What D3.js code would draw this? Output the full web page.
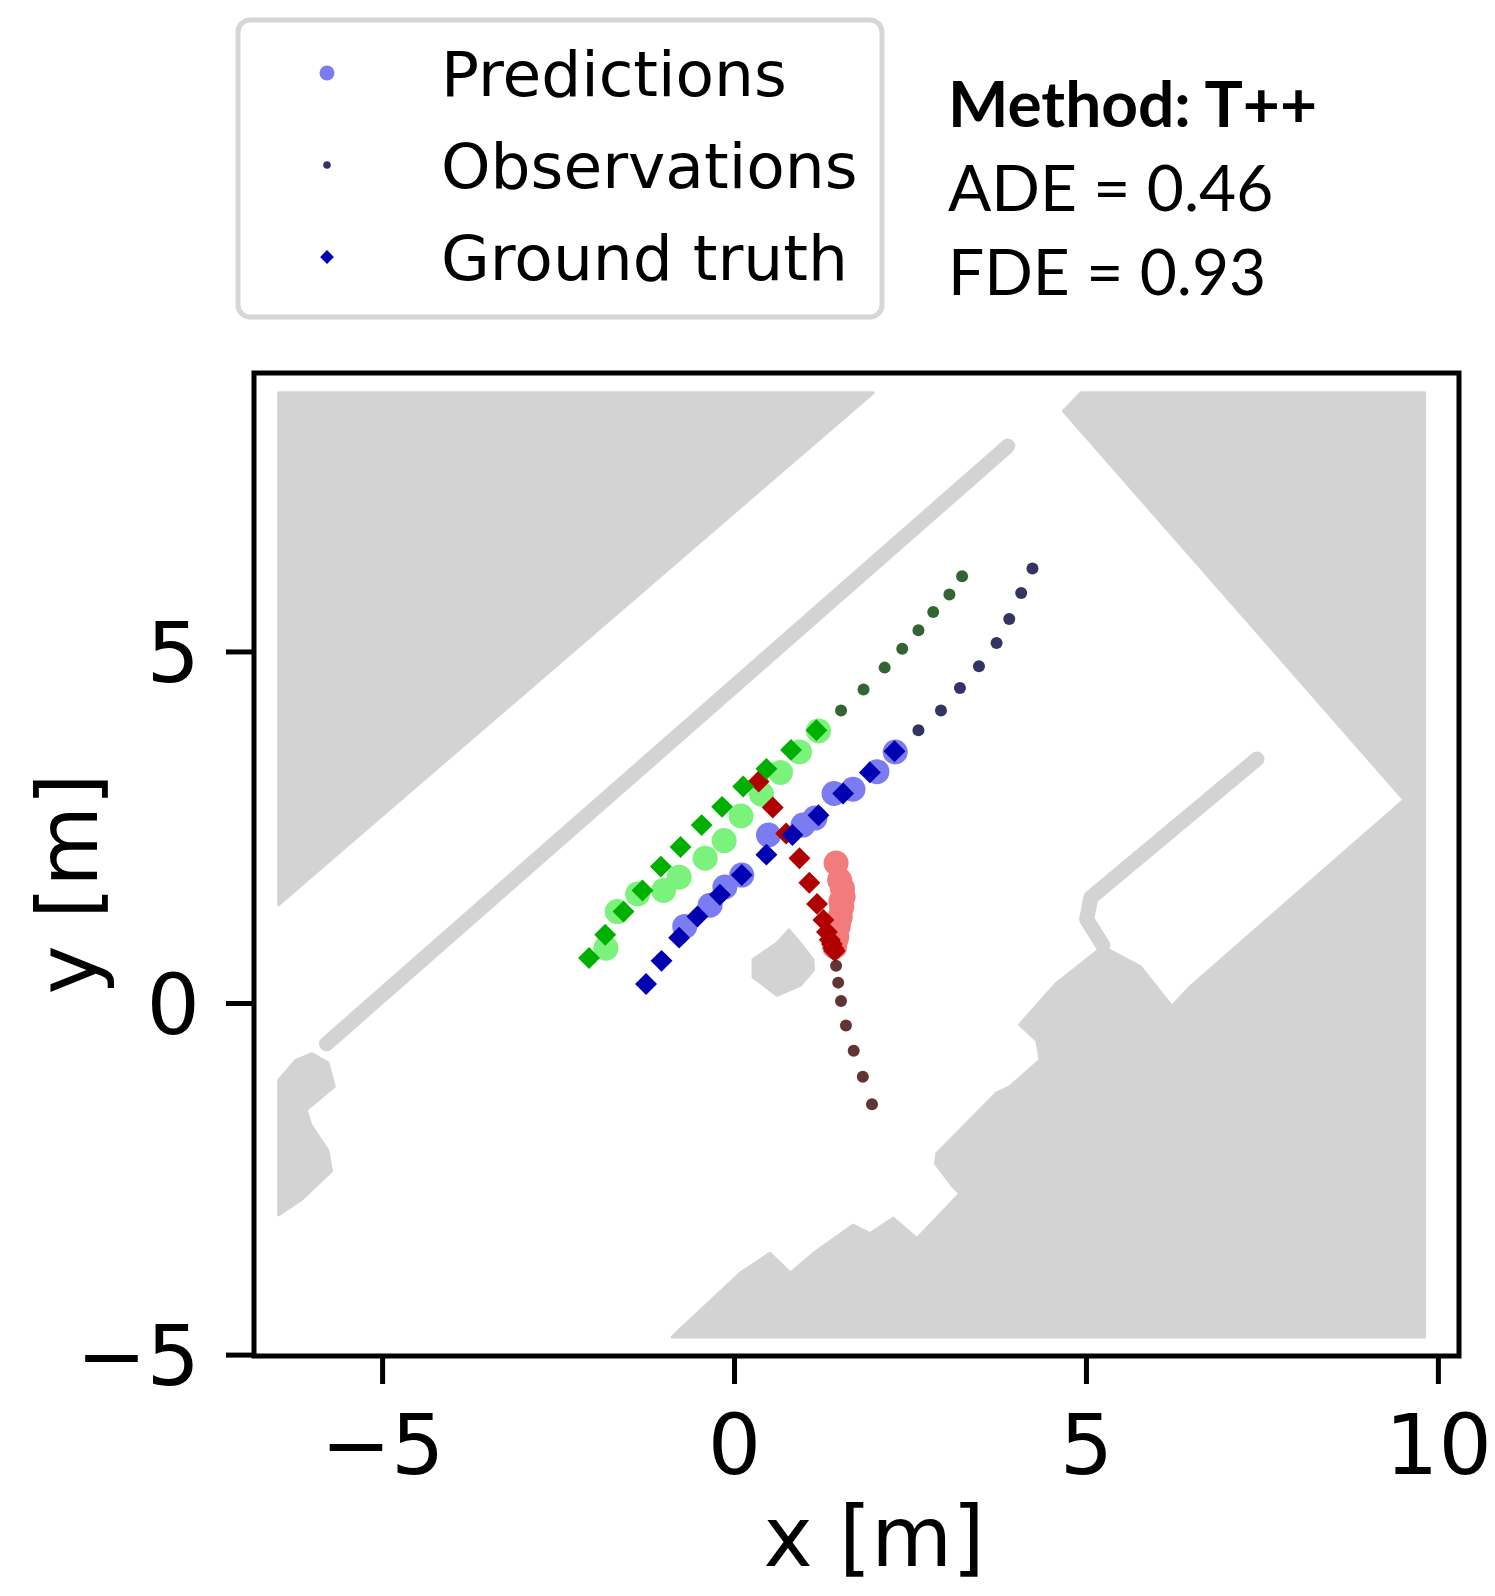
<!DOCTYPE html>
<html lang="en">
<head>
    <meta charset="UTF-8">
    <title>Trajectory predictions</title>
    <script src="https://cdnjs.cloudflare.com/ajax/libs/d3/7.8.5/d3.min.js"></script>
    <style>
        body { margin: 0; background: #fff; }
    </style>
</head>
<body>
<script type="text/javascript">
    // axis ticks and labels
    const xTicks = [-5, 0, 5, 10];
    const yTicks = [-5, 0, 5];
    const xLabel = "x [m]";
    const yLabel = "y [m]";
    const legendLabels = ["Predictions", "Observations", "Ground truth"];
    const methodName = "T++";
    const ade = 0.46;
    const fde = 0.93;

    // occupancy map (metres)
    const topLeftBlock = [[-6.47, 8.68], [1.98, 8.68], [-6.47, 1.40]];
    const rightBlock = [[4.68, 8.42], [4.93, 8.68], [9.81, 8.68], [9.81, -4.75], [-0.88, -4.75],
        [-0.72, -4.60], [0.09, -3.84], [0.51, -3.56], [0.80, -3.84], [1.13, -3.56], [1.69, -3.16],
        [1.93, -3.28], [2.26, -3.06], [2.60, -3.35], [3.21, -2.71], [3.11, -2.61], [2.86, -2.28],
        [2.88, -2.14], [3.73, -1.28], [3.92, -1.19], [4.35, -0.81], [4.30, -0.53], [4.06, -0.31],
        [4.16, -0.19], [4.58, 0.28], [5.24, 0.80], [5.77, 0.52], [6.15, 0.04], [6.22, -0.05],
        [6.48, 0.23], [9.52, 2.89]];
    const leftBlock = [[-6.47, -1.10], [-6.23, -0.82], [-6.00, -0.72], [-5.77, -0.85], [-5.68, -1.19],
        [-6.08, -1.52], [-6.01, -1.74], [-5.77, -2.10], [-5.72, -2.39], [-6.14, -2.79], [-6.47, -3.01]];
    const centerBlock = [[0.78, 1.04], [0.94, 0.85], [1.12, 0.62], [1.13, 0.47], [0.94, 0.25],
        [0.61, 0.11], [0.27, 0.37], [0.27, 0.62], [0.61, 0.85]];
    const longWall = [[-5.79, -0.58], [3.89, 7.92]];
    const innerWall = [[7.43, 3.47], [5.07, 1.50], [5.01, 1.19], [5.24, 0.82]];

    // agent 1 (red)
    const redObs = [[1.96, -1.44], [1.83, -1.05], [1.70, -0.68], [1.59, -0.32], [1.52, 0.03],
        [1.48, 0.29], [1.45, 0.53], [1.43, 0.70]];
    const redTruth = [[1.43, 0.74], [1.41, 0.78], [1.39, 0.84], [1.36, 0.90], [1.32, 1.01], [1.27, 1.18],
        [1.18, 1.41], [1.07, 1.71], [0.93, 2.06], [0.74, 2.41], [0.55, 2.78], [0.35, 3.15]];
    const redPred = [[1.43, 0.80], [1.44, 0.88], [1.46, 0.94], [1.48, 1.09], [1.49, 1.16], [1.51, 1.23],
        [1.53, 1.37], [1.52, 1.45], [1.55, 1.51], [1.54, 1.63], [1.50, 1.75], [1.45, 1.99]];

    // agent 2 (green)
    const greenObs = [[3.24, 6.07], [3.06, 5.81], [2.83, 5.56], [2.62, 5.30], [2.39, 5.04],
        [2.14, 4.77], [1.84, 4.46], [1.52, 4.16]];
    const greenTruth = [[1.17, 3.88], [0.81, 3.60], [0.46, 3.33], [0.13, 3.08], [-0.17, 2.79], [-0.46, 2.53],
        [-0.76, 2.22], [-1.04, 1.94], [-1.30, 1.60], [-1.57, 1.30], [-1.83, 0.97], [-2.06, 0.64]];
    const greenPred = [[1.20, 3.87], [0.93, 3.57], [0.66, 3.28], [0.39, 2.97], [0.10, 2.66], [-0.14, 2.31],
        [-0.41, 2.06], [-0.78, 1.79], [-1.00, 1.60], [-1.37, 1.55], [-1.66, 1.30], [-1.82, 0.78]];

    // agent 3 (blue)
    const blueObs = [[4.24, 6.18], [4.08, 5.83], [3.91, 5.46], [3.73, 5.12], [3.48, 4.79],
        [3.21, 4.48], [2.94, 4.16], [2.62, 3.88]];
    const blueTruth = [[2.28, 3.58], [1.93, 3.28], [1.55, 2.98], [1.20, 2.67], [0.83, 2.39], [0.46, 2.11],
        [0.11, 1.82], [-0.20, 1.54], [-0.52, 1.23], [-0.78, 0.93], [-1.03, 0.60], [-1.25, 0.27]];
    const bluePred = [[2.29, 3.57], [2.03, 3.29], [1.69, 3.04], [1.42, 2.98], [1.15, 2.63], [0.98, 2.53],
        [0.49, 2.39], [0.11, 1.82], [-0.13, 1.65], [-0.34, 1.39], [-0.70, 1.09]];

    const agents = [
        {obs: redObs, truth: redTruth, pred: redPred, cObs: "#633434", cTruth: "#b00000", cPred: "#f27b7b"},
        {obs: greenObs, truth: greenTruth, pred: greenPred, cObs: "#346334", cTruth: "#00b000", cPred: "#7bf27b"},
        {obs: blueObs, truth: blueTruth, pred: bluePred, cObs: "#343463", cTruth: "#0000b0", cPred: "#7b7bf2"}
    ];

    const W = 1495, H = 1596;
    const box = {left: 254, right: 1459, top: 373, bottom: 1356};
    const fontTick = "DejaVu Sans, sans-serif";

    const x = d3.scaleLinear().domain([-6.82, 10.30]).range([box.left, box.right]);
    const y = d3.scaleLinear().domain([-5.02, 8.96]).range([box.bottom, box.top]);

    const svg = d3.select("body").append("svg")
        .attr("width", W)
        .attr("height", H)
        .style("display", "block");

    // ---- map ----
    const map = svg.append("g").attr("fill", "#d3d3d3");
    const poly = d3.line().x(d => x(d[0])).y(d => y(d[1]));
    map.selectAll("path.block")
        .data([topLeftBlock, rightBlock, leftBlock, centerBlock])
        .enter().append("path")
        .attr("class", "block")
        .attr("d", d => poly(d) + "Z")
        .attr("stroke", "#d3d3d3")
        .attr("stroke-width", 3)
        .attr("stroke-linejoin", "round");
    map.selectAll("path.wall")
        .data([longWall, innerWall])
        .enter().append("path")
        .attr("class", "wall")
        .attr("d", poly)
        .attr("fill", "none")
        .attr("stroke", "#d3d3d3")
        .attr("stroke-width", 15)
        .attr("stroke-linecap", "round")
        .attr("stroke-linejoin", "round");

    // ---- trajectories ----
    const diamond = d3.symbol(d3.symbolSquare, 240);
    const marks = svg.append("g");

    agents.forEach(a => {
        marks.append("g").selectAll("circle")
            .data(a.pred)
            .enter().append("circle")
            .attr("cx", d => x(d[0]))
            .attr("cy", d => y(d[1]))
            .attr("r", 12.5)
            .attr("fill", a.cPred);
    });
    agents.forEach(a => {
        marks.append("g").selectAll("circle")
            .data(a.obs)
            .enter().append("circle")
            .attr("cx", d => x(d[0]))
            .attr("cy", d => y(d[1]))
            .attr("r", 6)
            .attr("fill", a.cObs);
    });
    agents.forEach(a => {
        marks.append("g").selectAll("path")
            .data(a.truth)
            .enter().append("path")
            .attr("d", diamond)
            .attr("transform", d => `translate(${x(d[0])},${y(d[1])}) rotate(45)`)
            .attr("fill", a.cTruth);
    });

    // ---- frame + axes ----
    svg.append("rect")
        .attr("x", box.left)
        .attr("y", box.top)
        .attr("width", box.right - box.left)
        .attr("height", box.bottom - box.top)
        .attr("fill", "none")
        .attr("stroke", "#000")
        .attr("stroke-width", 5);

    const fmt = d => d < 0 ? "\u2212" + Math.abs(d) : String(d);

    const xAxis = svg.append("g")
        .attr("transform", `translate(0,${box.bottom})`)
        .call(d3.axisBottom(x).tickValues(xTicks).tickFormat(fmt).tickSize(28).tickPadding(30));
    const yAxis = svg.append("g")
        .attr("transform", `translate(${box.left},0)`)
        .call(d3.axisLeft(y).tickValues(yTicks).tickFormat(fmt).tickSize(28).tickPadding(26));
    [xAxis, yAxis].forEach(g => {
        g.select(".domain").remove();
        g.selectAll(".tick line").attr("stroke", "#000").attr("stroke-width", 5);
        g.selectAll(".tick text")
            .attr("fill", "#000")
            .style("font-family", fontTick)
            .style("font-size", "84px");
    });
    yAxis.selectAll(".tick text").attr("dy", "0.36em");

    svg.append("text")
        .attr("x", 874)
        .attr("y", 1566)
        .attr("text-anchor", "middle")
        .style("font-family", fontTick)
        .style("font-size", "83px")
        .text(xLabel);
    svg.append("text")
        .attr("transform", "translate(97,884) rotate(-90)")
        .attr("text-anchor", "middle")
        .style("font-family", fontTick)
        .style("font-size", "83px")
        .text(yLabel);

    // ---- legend ----
    const legend = svg.append("g");
    legend.append("rect")
        .attr("x", 238)
        .attr("y", 20)
        .attr("width", 644)
        .attr("height", 297)
        .attr("rx", 12)
        .attr("fill", "#fff")
        .attr("stroke", "#d6d6d6")
        .attr("stroke-width", 5);
    const rowY = [73, 165, 257];
    const mx = 327;
    legend.append("circle").attr("cx", mx).attr("cy", rowY[0]).attr("r", 7.5).attr("fill", "#7b7bf2");
    legend.append("circle").attr("cx", mx).attr("cy", rowY[1]).attr("r", 3.8).attr("fill", "#343463");
    legend.append("path")
        .attr("d", d3.symbol(d3.symbolSquare, 95)())
        .attr("transform", `translate(${mx},${rowY[2]}) rotate(45)`)
        .attr("fill", "#0000b0");
    legend.selectAll("text")
        .data(legendLabels)
        .enter().append("text")
        .attr("x", 441)
        .attr("y", (d, i) => rowY[i] + 23)
        .style("font-family", fontTick)
        .style("font-size", "63px")
        .text(d => d);

    // ---- metrics ----
    const info = svg.append("g").style("font-family", "Lato, sans-serif").style("font-size", "64px");
    info.append("text").attr("x", 948).attr("y", 127).attr("font-weight", "bold").text("Method: " + methodName);
    info.append("text").attr("x", 948).attr("y", 211).text("ADE = " + ade.toFixed(2));
    info.append("text").attr("x", 948).attr("y", 295).text("FDE = " + fde.toFixed(2));
</script>
</body>
</html>
